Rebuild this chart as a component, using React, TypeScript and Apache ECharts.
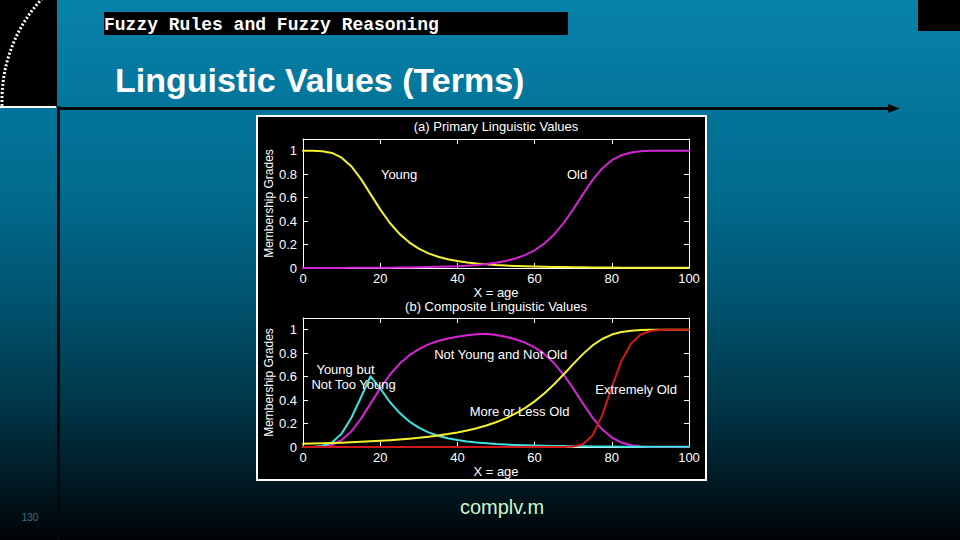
import React, { useEffect, useRef } from "react";
import * as echarts from "echarts";

// ---------- data ----------
const ages = [
  0, 2.5, 5, 7.5, 10, 12.5, 15, 17.5, 20, 22.5, 25, 27.5, 30, 32.5, 35, 37.5, 40, 42.5, 45, 47.5, 50,
  52.5, 55, 57.5, 60, 62.5, 65, 67.5, 70, 72.5, 75, 77.5, 80, 82.5, 85, 87.5, 90, 92.5, 95, 97.5, 100,
];

// (a) primary values
const young = [
  1.0, 1.0, 0.996, 0.981, 0.941, 0.868, 0.76, 0.63, 0.5, 0.384, 0.291, 0.219, 0.165, 0.125, 0.096, 0.075,
  0.059, 0.047, 0.038, 0.031, 0.025, 0.021, 0.017, 0.014, 0.012, 0.01, 0.009, 0.008, 0.007, 0.006, 0.005,
  0.004, 0.004, 0.003, 0.003, 0.003, 0.002, 0.002, 0.002, 0.002, 0.002,
];
const old = [
  0.001, 0.001, 0.001, 0.001, 0.001, 0.002, 0.002, 0.002, 0.003, 0.003, 0.004, 0.005, 0.006, 0.008, 0.01,
  0.012, 0.015, 0.02, 0.026, 0.034, 0.045, 0.06, 0.081, 0.11, 0.151, 0.208, 0.284, 0.382, 0.5, 0.628,
  0.749, 0.849, 0.919, 0.962, 0.985, 0.995, 0.999, 1.0, 1.0, 1.0, 1.0,
];

// (b) composite values
const notYoungNotOld = [
  0, 0, 0.004, 0.019, 0.059, 0.132, 0.24, 0.37, 0.5, 0.616, 0.709, 0.781, 0.835, 0.875, 0.904, 0.925,
  0.941, 0.953, 0.962, 0.966, 0.955, 0.94, 0.919, 0.89, 0.849, 0.792, 0.716, 0.618, 0.5, 0.372, 0.251,
  0.151, 0.081, 0.038, 0.015, 0.005, 0.001, 0, 0, 0, 0,
];
const youngButNotTooYoung = [
  0, 0, 0.008, 0.038, 0.114, 0.247, 0.422, 0.603, 0.5, 0.384, 0.291, 0.219, 0.165, 0.125, 0.096, 0.075,
  0.059, 0.047, 0.038, 0.031, 0.025, 0.021, 0.017, 0.014, 0.012, 0.01, 0.009, 0.008, 0.007, 0.006, 0.005,
  0.004, 0.004, 0.003, 0.003, 0.003, 0.002, 0.002, 0.002, 0.002, 0.002,
];
const moreOrLessOld = [
  0.027, 0.029, 0.031, 0.034, 0.037, 0.04, 0.044, 0.048, 0.053, 0.058, 0.064, 0.071, 0.078, 0.087, 0.098,
  0.11, 0.124, 0.141, 0.16, 0.183, 0.211, 0.244, 0.284, 0.332, 0.389, 0.456, 0.533, 0.618, 0.707, 0.792,
  0.866, 0.921, 0.959, 0.981, 0.992, 0.997, 0.999, 1.0, 1.0, 1.0, 1.0,
];
const extremelyOld = [
  0, 0, 0, 0, 0, 0, 0, 0, 0, 0, 0, 0, 0, 0, 0, 0, 0, 0, 0, 0, 0, 0, 0, 0, 0, 0, 0, 0, 0.004, 0.024, 0.099,
  0.27, 0.51, 0.734, 0.883, 0.959, 0.989, 0.998, 1.0, 1.0, 1.0,
];

const xTickValues = [0, 20, 40, 60, 80, 100];
const yTickValues = [0, 0.2, 0.4, 0.6, 0.8, 1];

const topLabels = [
  { name: "Young", x: 24.9, y: 0.8 },
  { name: "Old", x: 71, y: 0.8 },
];
const bottomLabels = [
  { name: "Not Young and Not Old", x: 51.2, y: 0.79 },
  { name: "Young but", x: 11.0, y: 0.658 },
  { name: "Not Too Young", x: 13.1, y: 0.535 },
  { name: "Extremely Old", x: 86.3, y: 0.49 },
  { name: "More or Less Old", x: 56.1, y: 0.3 },
];

const FONT = "'Liberation Sans', Arial, Helvetica, sans-serif";
const YELLOW = "#f2f230";
const MAGENTA = "#d424d4";
const CYAN = "#3ee0e0";
const RED = "#d01818";

const pairs = (vals: number[]) => ages.map((a, i) => [a, vals[i]]);

export default function App() {
  const ref = useRef<HTMLDivElement>(null);

  useEffect(() => {
    if (!ref.current) return;
    const chart = echarts.init(ref.current, null, { renderer: "svg" });

    const grids = [
      { left: 303, top: 139, width: 386, height: 129 },
      { left: 303, top: 318, width: 386, height: 129 },
    ];

    const xAxisBase = (gridIndex: number, position: "bottom" | "top") => ({
      type: "value",
      gridIndex,
      position,
      min: xTickValues[0],
      max: xTickValues[xTickValues.length - 1],
      interval: xTickValues[1] - xTickValues[0],
      name: position === "bottom" ? "X = age" : "",
      nameLocation: "middle",
      nameGap: 16,
      nameTextStyle: { color: "#fff", fontSize: 13, fontFamily: FONT },
      axisLine: { show: true, onZero: false, lineStyle: { color: "#fff", width: 1 } },
      axisTick: { show: true, inside: true, length: 5, lineStyle: { color: "#fff" } },
      axisLabel: {
        show: position === "bottom",
        color: "#fff",
        fontSize: 13,
        fontFamily: FONT,
        margin: 4,
      },
      splitLine: { show: false },
    });

    const yAxisBase = (gridIndex: number, position: "left" | "right") => ({
      type: "value",
      gridIndex,
      position,
      min: 0,
      max: 1.1,
      interval: yTickValues[1] - yTickValues[0],
      name: position === "left" ? "Membership Grades" : "",
      nameLocation: "middle",
      nameGap: 27,
      nameRotate: 90,
      nameTextStyle: { color: "#fff", fontSize: 12, fontFamily: FONT },
      axisLine: { show: true, onZero: false, lineStyle: { color: "#fff", width: 1 } },
      axisTick: { show: true, inside: true, length: 5, lineStyle: { color: "#fff" } },
      axisLabel: {
        show: position === "left",
        color: "#fff",
        fontSize: 13,
        fontFamily: FONT,
        margin: 6,
        formatter: (v: number) => (v > 1.0001 ? "" : String(Number(v.toFixed(1)))),
      },
      splitLine: { show: false },
    });

    const lineSeries = (name: string, vals: number[], color: string, axis: number) => ({
      type: "line",
      name,
      xAxisIndex: axis,
      yAxisIndex: axis,
      data: pairs(vals),
      showSymbol: false,
      symbol: "none",
      smooth: false,
      lineStyle: { color, width: 2, join: "round", cap: "round" },
      itemStyle: { color },
      z: 3,
    });

    const markLabels = (labels: { name: string; x: number; y: number }[]) => ({
      symbol: "rect",
      symbolSize: 1,
      itemStyle: { color: "rgba(0,0,0,0)" },
      label: {
        show: true,
        position: "inside",
        formatter: "{b}",
        color: "#fff",
        fontSize: 13,
        lineHeight: 13,
        fontFamily: FONT,
      },
      data: labels.map((l) => ({ name: l.name, coord: [l.x, l.y] })),
    });

    const s1 = lineSeries("Young", young, YELLOW, 0);
    const s2: any = lineSeries("Old", old, MAGENTA, 0);
    s2.markPoint = markLabels(topLabels);
    const b1 = lineSeries("Not Young and Not Old", notYoungNotOld, MAGENTA, 2);
    const b2 = lineSeries("Young but Not Too Young", youngButNotTooYoung, CYAN, 2);
    const b3 = lineSeries("More or Less Old", moreOrLessOld, YELLOW, 2);
    const b4: any = lineSeries("Extremely Old", extremelyOld, RED, 2);
    b4.markPoint = markLabels(bottomLabels);

    const option: any = {
      animation: false,
      backgroundColor: {
        type: "linear",
        x: 0,
        y: 0,
        x2: 0,
        y2: 1,
        colorStops: [
          { offset: 0, color: "#0882ab" },
          { offset: 0.37, color: "#006a8c" },
          { offset: 0.55, color: "#005470" },
          { offset: 0.74, color: "#00384a" },
          { offset: 0.89, color: "#001a24" },
          { offset: 1, color: "#000305" },
        ],
      },
      grid: grids,
      xAxis: [xAxisBase(0, "bottom"), xAxisBase(0, "top"), xAxisBase(1, "bottom"), xAxisBase(1, "top")],
      yAxis: [yAxisBase(0, "left"), yAxisBase(0, "right"), yAxisBase(1, "left"), yAxisBase(1, "right")],
      series: [s1, s2, b1, b2, b3, b4],
      graphic: [
        // slide decorations
        { type: "rect", z: -10, shape: { x: 0, y: 0, width: 57, height: 106 }, style: { fill: "#000" } },
        {
          type: "arc",
          z: -9,
          shape: { cx: 150, cy: 100, r: 148, startAngle: Math.PI - 0.04, endAngle: 3.95, clockwise: true },
          style: { stroke: "#fff", lineWidth: 3, lineDash: [2, 2], fill: null },
        },
        { type: "rect", z: -10, shape: { x: 0, y: 106, width: 56, height: 2 }, style: { fill: "#fff" } },
        { type: "rect", z: -10, shape: { x: 918, y: 0, width: 42, height: 31 }, style: { fill: "#000" } },
        { type: "rect", z: -10, shape: { x: 57, y: 106, width: 3, height: 434 }, style: { fill: "#03080c" } },
        { type: "rect", z: -10, shape: { x: 57, y: 107, width: 834, height: 3 }, style: { fill: "#03080c" } },
        {
          type: "polygon",
          z: -10,
          shape: { points: [[888, 104], [900, 108.5], [888, 113]] },
          style: { fill: "#03080c" },
        },
        { type: "rect", z: -10, shape: { x: 104, y: 12, width: 464, height: 23 }, style: { fill: "#000" } },
        {
          type: "text",
          z: -9,
          style: {
            x: 104,
            y: 25,
            text: "Fuzzy Rules and Fuzzy Reasoning",
            font: "bold 18px 'Liberation Mono', 'Courier New', monospace",
            fill: "#fff",
            verticalAlign: "middle",
          },
        },
        {
          type: "text",
          z: -9,
          style: {
            x: 115,
            y: 80,
            text: "Linguistic Values (Terms)",
            font: `bold 34px ${FONT}`,
            fill: "#fff",
            verticalAlign: "middle",
          },
        },
        // chart panel
        {
          type: "rect",
          z: -8,
          shape: { x: 257, y: 116, width: 449, height: 364 },
          style: { fill: "#000", stroke: "#fff", lineWidth: 2 },
        },
        {
          type: "text",
          z: 5,
          style: {
            x: 496,
            y: 126,
            text: "(a) Primary Linguistic Values",
            font: `13px ${FONT}`,
            fill: "#fff",
            align: "center",
            verticalAlign: "middle",
          },
        },
        {
          type: "text",
          z: 5,
          style: {
            x: 496,
            y: 306,
            text: "(b) Composite Linguistic Values",
            font: `13px ${FONT}`,
            fill: "#fff",
            align: "center",
            verticalAlign: "middle",
          },
        },
        {
          type: "text",
          z: 5,
          style: {
            x: 502,
            y: 507,
            text: "complv.m",
            font: `20px ${FONT}`,
            fill: "#ccf5cc",
            align: "center",
            verticalAlign: "middle",
          },
        },
        {
          type: "text",
          z: 5,
          style: {
            x: 30,
            y: 517,
            text: "130",
            font: `10px ${FONT}`,
            fill: "#3f7088",
            align: "center",
            verticalAlign: "middle",
          },
        },
      ],
    };

    chart.setOption(option);
    return () => chart.dispose();
  }, []);

  return (
    <div
      ref={ref}
      style={{ position: "fixed", left: 0, top: 0, width: 960, height: 540 }}
    />
  );
}
